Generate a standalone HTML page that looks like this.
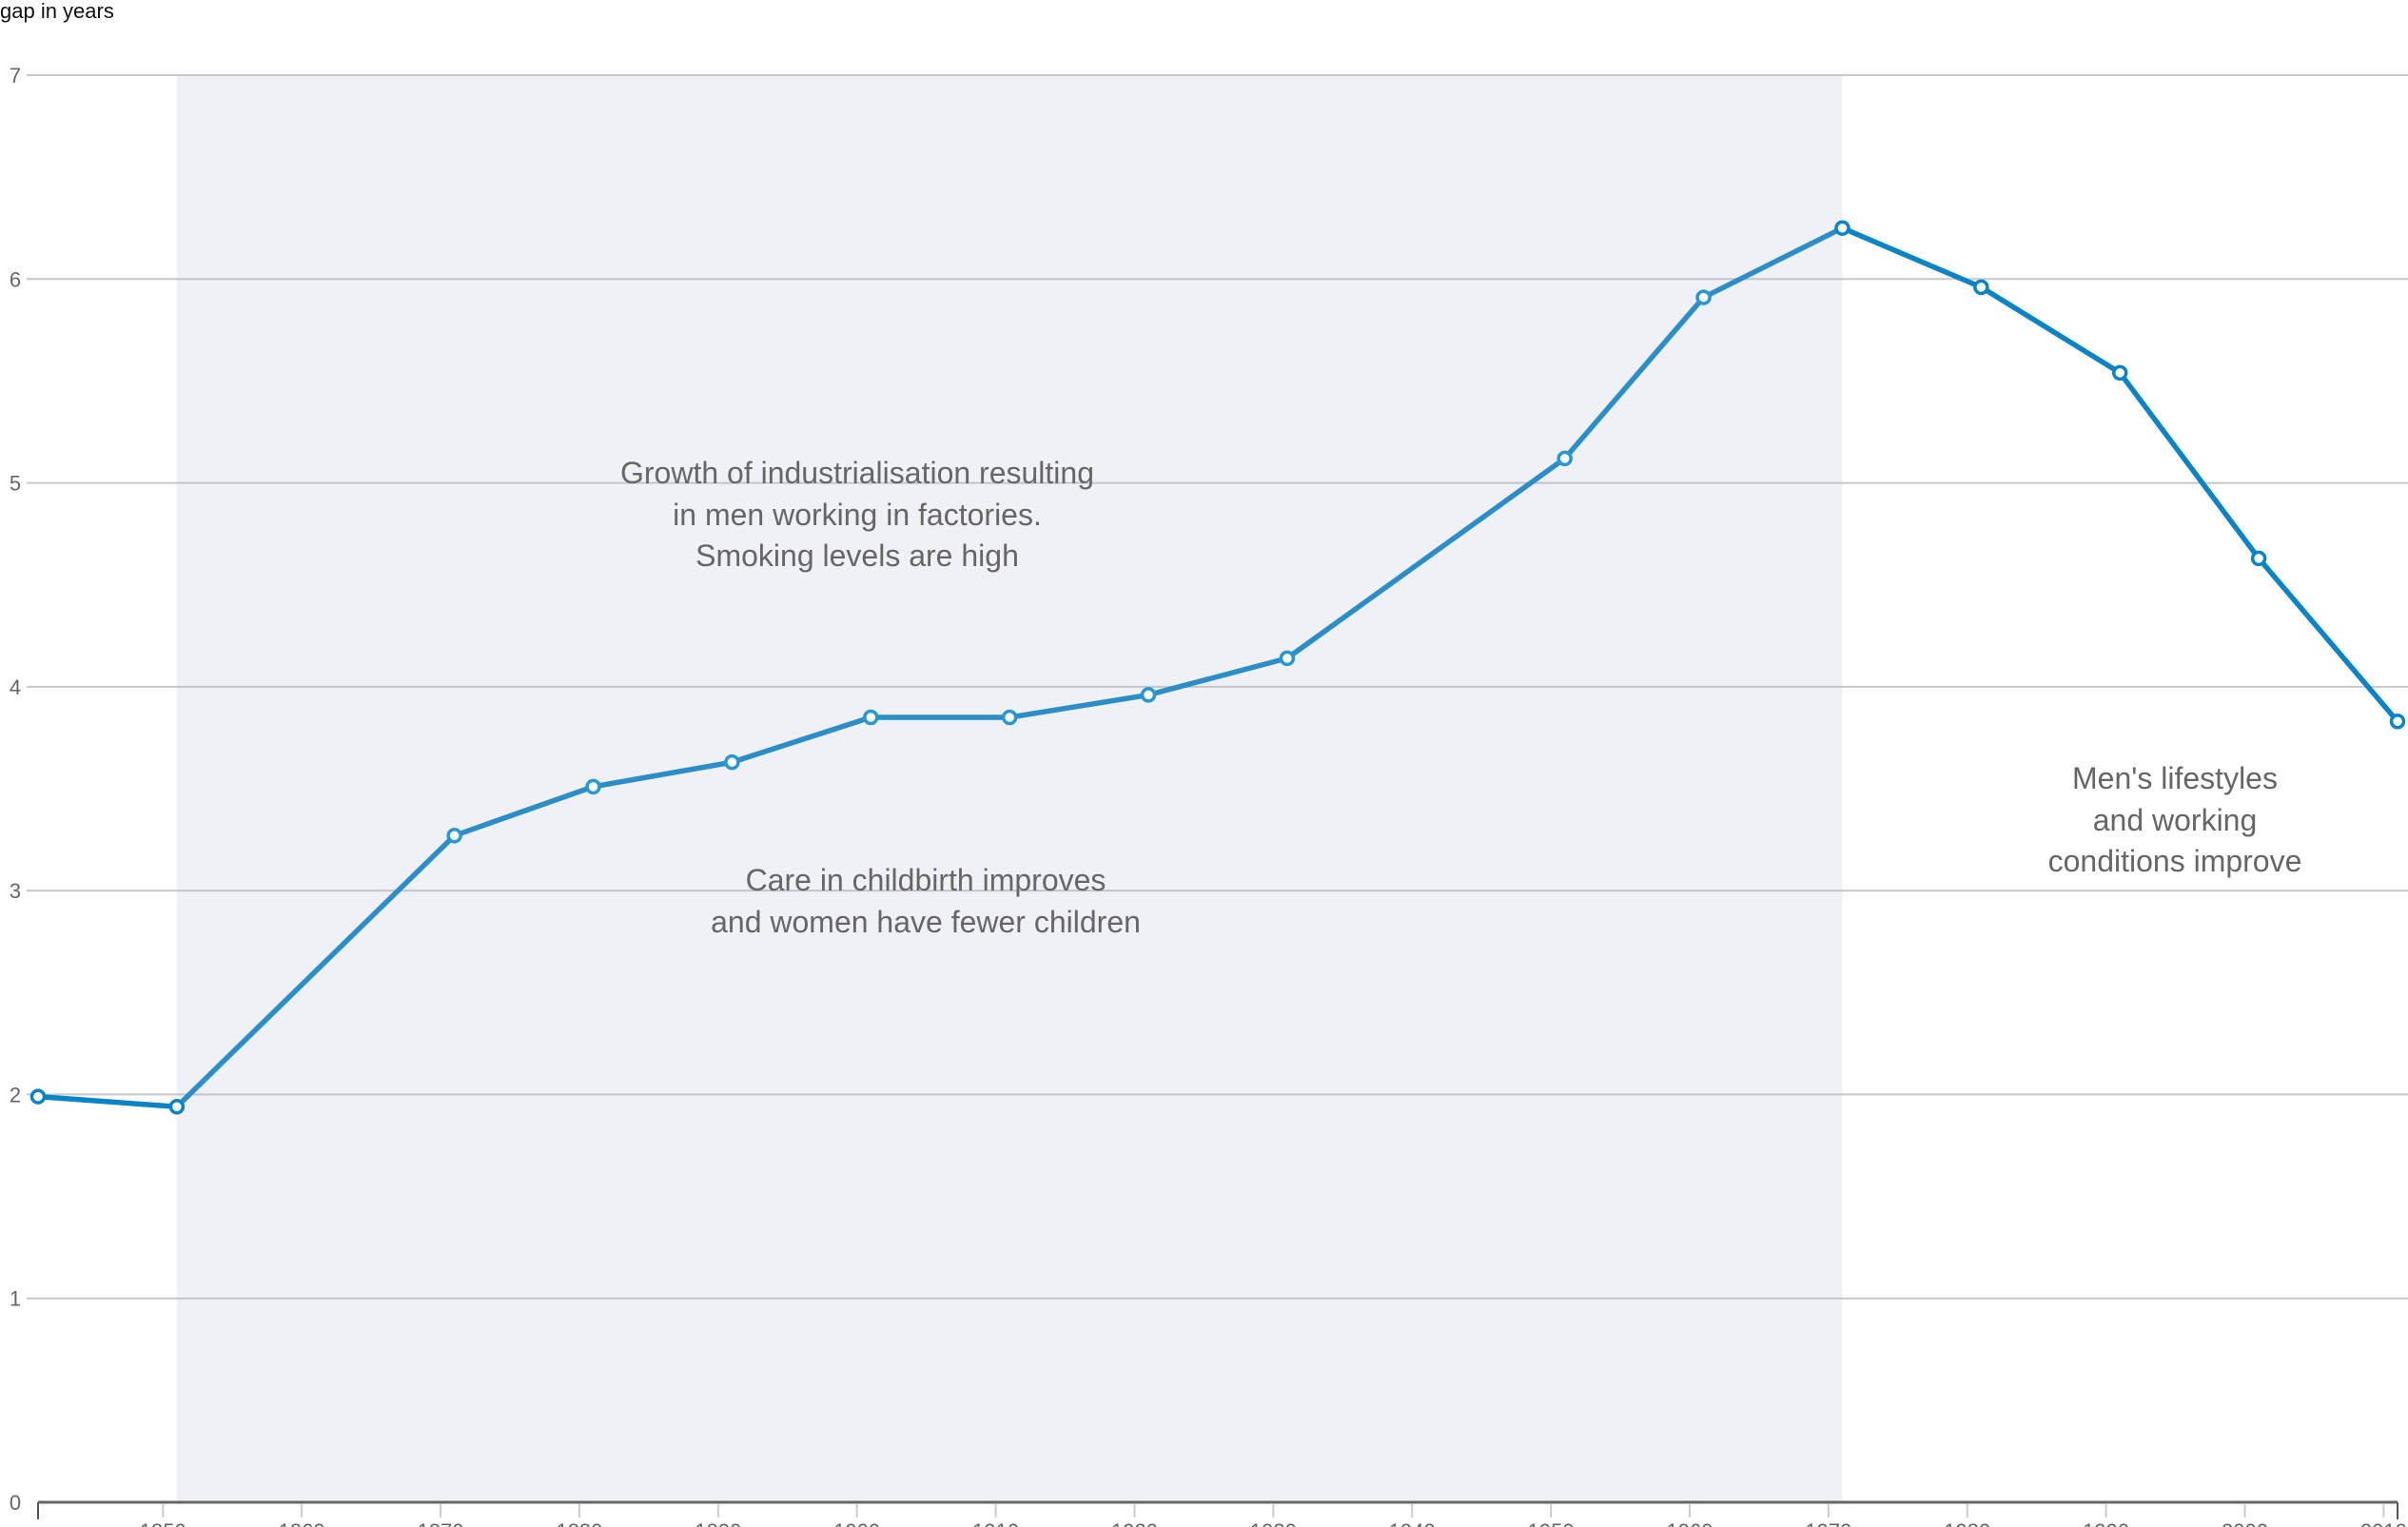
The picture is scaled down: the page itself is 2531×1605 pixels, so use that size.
<!DOCTYPE html>
<html><head><meta charset="utf-8"><style>
html,body{margin:0;padding:0;background:#fff;}
svg{display:block;font-family:"Liberation Sans",Arial,sans-serif;}
</style></head><body>
<svg id="chart" width="2531" height="1605" viewBox="0 0 2531 1605" xmlns="http://www.w3.org/2000/svg">
<text x="0" y="19" font-size="22" fill="#111">gap in years</text>
<g id="grid"></g>
<g id="series"></g>
<g id="shade"></g>
<g id="markers"></g>
<g id="axes"></g>
<g id="notes" font-size="32" fill="#666" text-anchor="middle">
<text x="901" y="508"><tspan x="901">Growth of industrialisation resulting</tspan><tspan x="901" dy="44">in men working in factories.</tspan><tspan x="901" dy="43">Smoking levels are high</tspan></text>
<text x="973" y="936"><tspan x="973">Care in childbirth improves</tspan><tspan x="973" dy="44">and women have fewer children</tspan></text>
<text x="2286" y="829"><tspan x="2286">Men's lifestyles</tspan><tspan x="2286" dy="44">and working</tspan><tspan x="2286" dy="43">conditions improve</tspan></text>
</g>
</svg>
<script>
const years = [1841,1851,1871,1881,1891,1901,1911,1921,1931,1951,1961,1971,1981,1991,2001,2011];
const gaps = [1.99,1.94,3.27,3.51,3.63,3.85,3.85,3.96,4.14,5.12,5.91,6.25,5.96,5.54,4.63,3.83];
const yTicks = [0,1,2,3,4,5,6,7];
const xTicks = [1850,1860,1870,1880,1890,1900,1910,1920,1930,1940,1950,1960,1970,1980,1990,2000,2010];
const shadeRange = [1851,1971];

const NS = "http://www.w3.org/2000/svg";
const X0=40, X1=2520, Y0=1579, Y1=79;
const xMin=1841, xMax=2011, yMax=7;
function x(v){return X0+(v-xMin)/(xMax-xMin)*(X1-X0);}
function y(v){return Y0-v/yMax*(Y0-Y1);}
function mk(tag,attrs,parent){const e=document.createElementNS(NS,tag);for(const k in attrs)e.setAttribute(k,attrs[k]);document.getElementById(parent).appendChild(e);return e;}

yTicks.forEach(t=>{
  if(t>0){
    const g=mk('line',{x1:28,x2:2531,y1:y(t),y2:y(t),stroke:'#c8c8cc','stroke-width':2},'grid');
    
    
  }
  const tl=mk('text',{x:16,y:y(t)+8,'font-size':22,fill:'#666','text-anchor':'middle'},'axes');
  tl.textContent=t;
  
  
});

const pts=years.map((yr,i)=>x(yr)+','+y(gaps[i])).join(' ');
const line=mk('polyline',{points:pts,fill:'none',stroke:'#0a84c6','stroke-width':5.5,'stroke-linejoin':'round'},'series');



const sh=mk('rect',{x:x(shadeRange[0]),y:Y1,width:x(shadeRange[1])-x(shadeRange[0]),height:Y0-Y1,fill:'rgb(175,185,210)','fill-opacity':0.2},'shade');



years.forEach((yr,i)=>{
  const inBand = yr>shadeRange[0] && yr<shadeRange[1];
  const c=mk('circle',{cx:x(yr),cy:y(gaps[i]),r:6.5,fill:'#fff',stroke:inBand?'#2a97d2':'#0a84c6','stroke-width':3.5},'markers');
  
  
});

const ax=mk('line',{x1:X0,x2:X1,y1:Y0,y2:Y0,stroke:'#666','stroke-width':3},'axes');


const lt=mk('line',{x1:X0,x2:X0,y1:Y0,y2:1597,stroke:'#555','stroke-width':2},'axes');


const rt=mk('line',{x1:X1,x2:X1,y1:Y0,y2:1597,stroke:'#555','stroke-width':2},'axes');


xTicks.forEach(t=>{
  const tk=mk('line',{x1:x(t),x2:x(t),y1:Y0+2,y2:1595,stroke:'#ccc','stroke-width':2},'axes');
  
  
  const tl=mk('text',{x:x(t),y:1617,'font-size':22,fill:'#666','text-anchor':'middle'},'axes');
  tl.textContent=t;
  
  
});
</script>
</body></html>
